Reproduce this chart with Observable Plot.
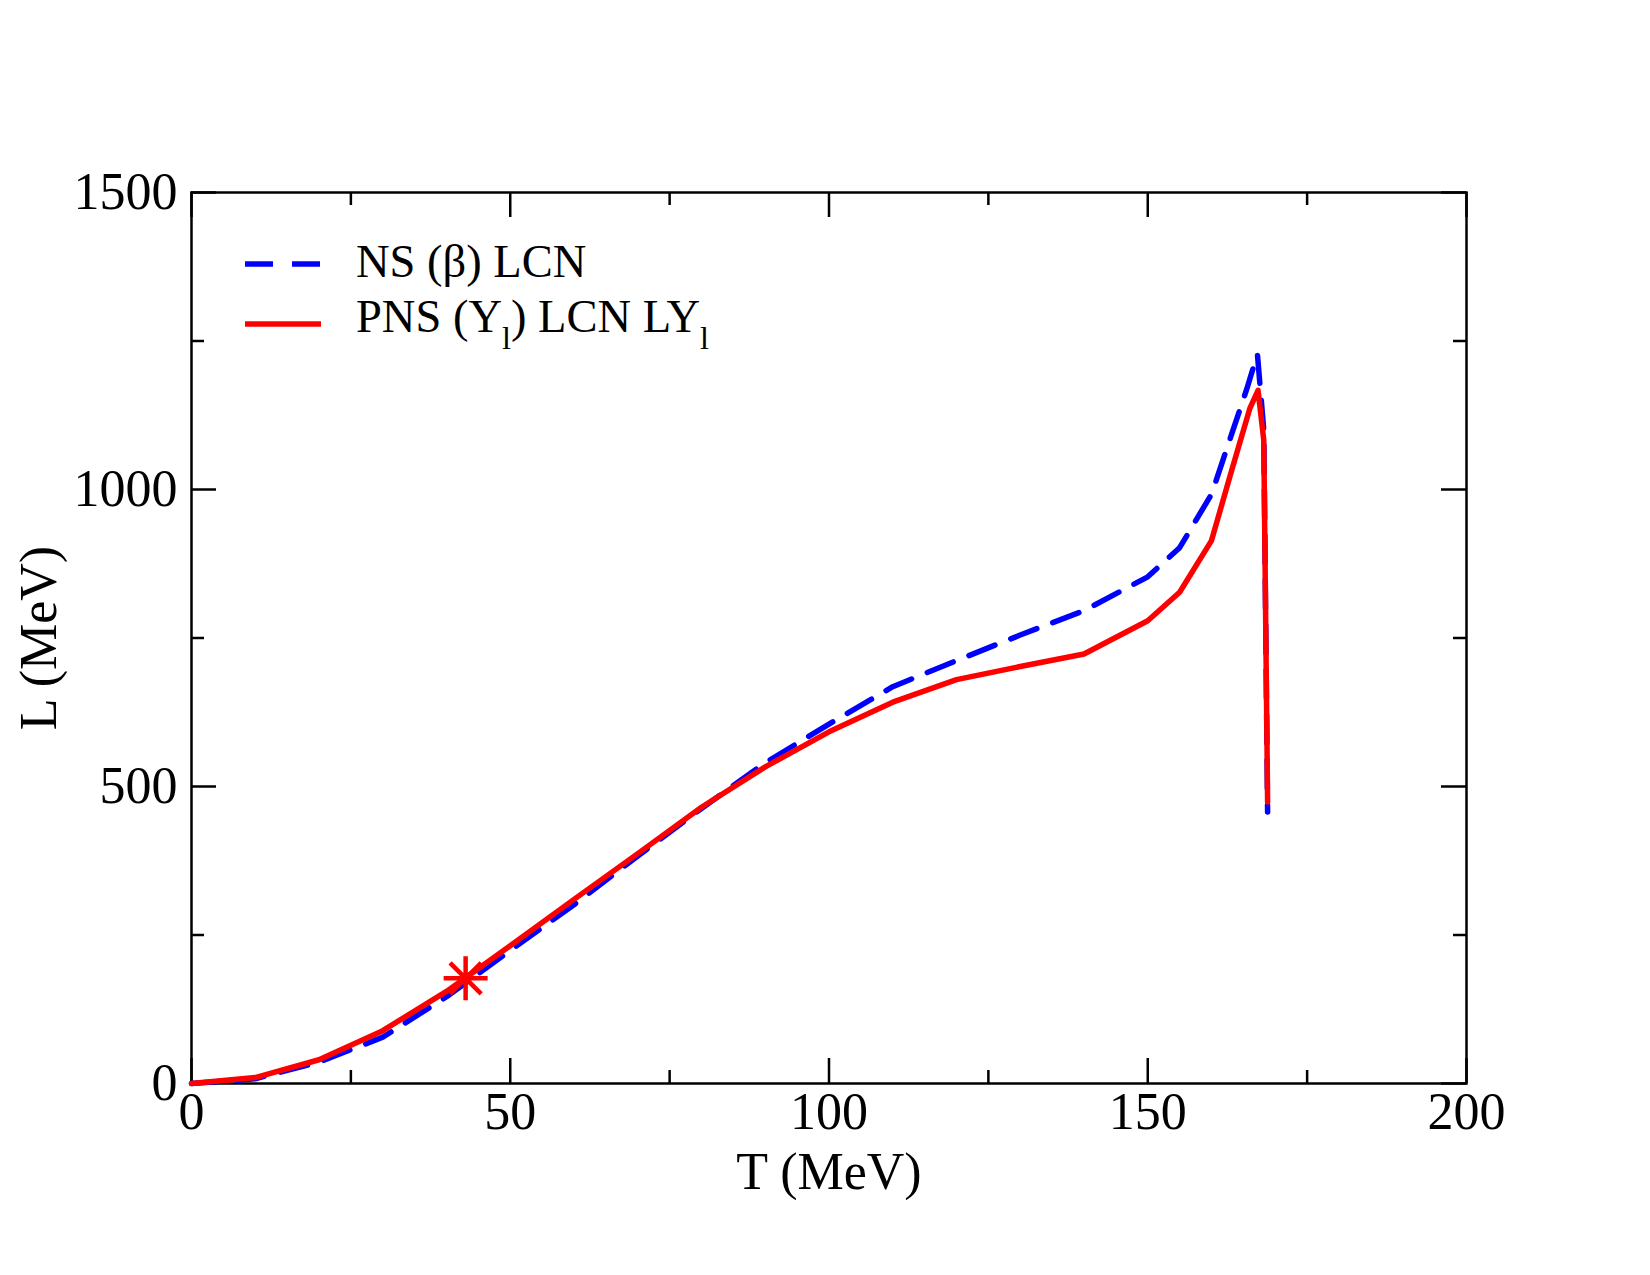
<!DOCTYPE html>
<html>
<head>
<meta charset="utf-8">
<script src="https://cdn.jsdelivr.net/npm/d3@7"></script>
<script src="https://cdn.jsdelivr.net/npm/@observablehq/plot@0.6"></script>
<style>
  body { margin: 0; background: #fff; }
</style>
</head>
<body>
<div id="chart"></div>
<script>
// Luminosity L versus temperature T along the two trajectories
const tNS  = [0, 10, 20, 30, 40, 50, 60, 70, 80, 90, 100, 110, 120, 130, 140, 150, 155, 160, 163, 165.5, 167.2, 168.2, 168.8];
const lNS  = [0, 8, 36, 78, 146, 224, 301, 383, 463, 540, 605, 668, 712, 755, 796, 853, 902, 992, 1088, 1168, 1228, 1100, 457];

const tPNS = [0, 10, 20, 30, 40, 50, 60, 70, 80, 90, 100, 110, 120, 130, 140, 150, 155, 160, 163, 166, 167.3, 168.2, 168.8];
const lPNS = [0, 10, 40, 89, 155, 232, 310, 387, 465, 533, 592, 642, 680, 702, 723, 779, 827, 914, 1026, 1136, 1167, 1083, 474];

// marked point on the PNS trajectory
const starT = [43];
const starL = [177];

const xTicks = [0, 50, 100, 150, 200];
const xMinor = [25, 75, 125, 175];
const yTicks = [0, 500, 1000, 1500];
const yMinor = [250, 750, 1250];

const seriesNS  = tNS.map((t, i) => ({T: t, L: lNS[i]}));
const seriesPNS = tPNS.map((t, i) => ({T: t, L: lPNS[i]}));
const starPts   = starT.map((t, i) => ({T: t, L: starL[i]}));

const W = 1650, H = 1275;
const mL = 191, mR = 184, mT = 192, mB = 192;
const fw = W - mL - mR, fh = H - mT - mB;
const major = 25, minor = 13;
const serif = "'Liberation Serif', 'Times New Roman', serif";

// eight-armed asterisk
const asterisk = {
  draw(ctx, size) {
    const r = Math.sqrt(size / Math.PI);
    for (let k = 0; k < 4; k++) {
      const a = k * Math.PI / 4;
      const dx = r * Math.cos(a), dy = r * Math.sin(a);
      ctx.moveTo(-dx, -dy);
      ctx.lineTo(dx, dy);
    }
  }
};

const tickStyle = {stroke: "black", strokeWidth: 2.5};
const plain = d => String(d);

const chart = Plot.plot({
  width: W,
  height: H,
  marginLeft: mL, marginRight: mR, marginTop: mT, marginBottom: mB,
  style: {fontFamily: serif, fontSize: "52px", background: "white", color: "black"},
  x: {domain: [0, 200]},
  y: {domain: [0, 1500]},
  marks: [
    // inward ticks on all four sides
    Plot.tickX(xTicks, {x: d => d, insetTop: fh - major, ...tickStyle}),
    Plot.tickX(xMinor, {x: d => d, insetTop: fh - minor, ...tickStyle}),
    Plot.tickX(xTicks, {x: d => d, insetBottom: fh - major, ...tickStyle}),
    Plot.tickX(xMinor, {x: d => d, insetBottom: fh - minor, ...tickStyle}),
    Plot.tickY(yTicks, {y: d => d, insetRight: fw - major, ...tickStyle}),
    Plot.tickY(yMinor, {y: d => d, insetRight: fw - minor, ...tickStyle}),
    Plot.tickY(yTicks, {y: d => d, insetLeft: fw - major, ...tickStyle}),
    Plot.tickY(yMinor, {y: d => d, insetLeft: fw - minor, ...tickStyle}),
    Plot.axisX({ticks: xTicks, tickFormat: plain, tickSize: 0, tickPadding: 9, label: null, fontSize: 52}),
    Plot.axisY({ticks: yTicks, tickFormat: plain, tickSize: 0, tickPadding: 14, label: null, fontSize: 52}),
    Plot.frame({stroke: "black", strokeWidth: 2.5}),
    Plot.line(seriesNS, {x: "T", y: "L", stroke: "#0000ff", strokeWidth: 5.5, strokeDasharray: "28,17", strokeLinejoin: "miter"}),
    Plot.line(seriesPNS, {x: "T", y: "L", stroke: "#ff0000", strokeWidth: 5.5, strokeLinejoin: "round"}),
    Plot.dot(starPts, {x: "T", y: "L", symbol: asterisk, r: 22, stroke: "#ff0000", strokeWidth: 4.5}),
    Plot.text(["T (MeV)"], {frameAnchor: "bottom", dy: 105, lineAnchor: "bottom", fontSize: 52}),
    Plot.text(["L (MeV)"], {frameAnchor: "left", dx: -152, rotate: -90, lineAnchor: "middle", textAnchor: "middle", fontSize: 52})
  ]
});

document.getElementById("chart").appendChild(chart);

// legend inside the frame, top left
const svg = d3.select(chart);
const lg = svg.append("g")
  .attr("font-family", serif)
  .attr("font-size", 46.5)
  .attr("text-anchor", "start");
const entries = [
  {color: "#0000ff", dash: "28,19", y: 264, base: 277, parts: [["NS (β) LCN", false]]},
  {color: "#ff0000", dash: null, y: 324, base: 332, parts: [["PNS (Y", false], ["l", true], [") LCN LY", false], ["l", true]]}
];
for (const e of entries) {
  lg.append("line")
    .attr("x1", 245).attr("x2", 321).attr("y1", e.y).attr("y2", e.y)
    .attr("stroke", e.color).attr("stroke-width", 5.5)
    .attr("stroke-dasharray", e.dash);
  const t = lg.append("text").attr("x", 356).attr("y", e.base).attr("fill", "black");
  let prevSub = false;
  for (const [s, sub] of e.parts) {
    const sp = t.append("tspan").text(s);
    if (sub) sp.attr("font-size", 32).attr("dy", 17);
    else if (prevSub) sp.attr("dy", -17);
    prevSub = sub;
  }
}
</script>
</body>
</html>
